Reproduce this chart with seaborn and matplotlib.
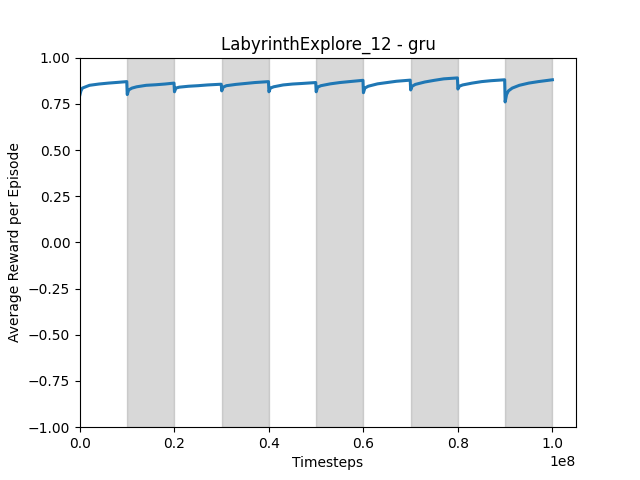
import matplotlib
matplotlib.use("Agg")
import matplotlib.pyplot as plt
import seaborn as sns
import pandas as pd

# timesteps in millions, reward values
seg_times = [
    [0, 0.2, 0.5, 1, 2, 4, 6, 8, 9.9],
    [10, 10.3, 11, 12, 14, 16, 18, 19.9],
    [20, 20.3, 21, 23, 25, 27, 29.9],
    [30, 30.3, 31, 33, 35, 37, 39.9],
    [40, 40.3, 41, 43, 45, 47, 49.9],
    [50, 50.3, 51, 53, 55, 57, 59.9],
    [60, 60.3, 61, 63, 65, 67, 69.9],
    [70, 70.3, 71, 73, 75, 77, 79.9],
    [80, 80.3, 81, 83, 85, 87, 89.9],
    [90, 90.3, 90.7, 91.5, 93, 95, 97, 100],
]
seg_values = [
    [0.80, 0.82, 0.835, 0.84, 0.85, 0.857, 0.862, 0.866, 0.87],
    [0.80, 0.825, 0.835, 0.842, 0.85, 0.853, 0.857, 0.862],
    [0.815, 0.835, 0.84, 0.845, 0.848, 0.852, 0.856],
    [0.82, 0.84, 0.848, 0.855, 0.86, 0.865, 0.87],
    [0.815, 0.835, 0.842, 0.852, 0.857, 0.86, 0.865],
    [0.815, 0.84, 0.848, 0.858, 0.865, 0.87, 0.877],
    [0.81, 0.835, 0.845, 0.858, 0.865, 0.872, 0.878],
    [0.825, 0.845, 0.855, 0.868, 0.877, 0.885, 0.89],
    [0.83, 0.845, 0.852, 0.862, 0.87, 0.875, 0.88],
    [0.76, 0.80, 0.82, 0.835, 0.85, 0.862, 0.87, 0.88],
]
shade_starts = [10, 30, 50, 70, 90]
shade_width = 10

times = [t * 1e6 for seg in seg_times for t in seg]
values = [v for seg in seg_values for v in seg]
df = pd.DataFrame({"Timesteps": times, "reward": values})

fig, ax = plt.subplots(figsize=(6.4, 4.8), dpi=100)
for s in shade_starts:
    ax.axvspan(s * 1e6, (s + shade_width) * 1e6, color="gray", alpha=0.3)
sns.lineplot(data=df, x="Timesteps", y="reward", ax=ax, color="#1f77b4", linewidth=2.2)
ax.set_xlim(0, 1.05e8)
ax.set_ylim(-1, 1)
ax.set_xlabel("Timesteps")
ax.set_ylabel("Average Reward per Episode")
ax.set_title("LabyrinthExplore_12 - gru")
fig.savefig("out.png", dpi=100)
